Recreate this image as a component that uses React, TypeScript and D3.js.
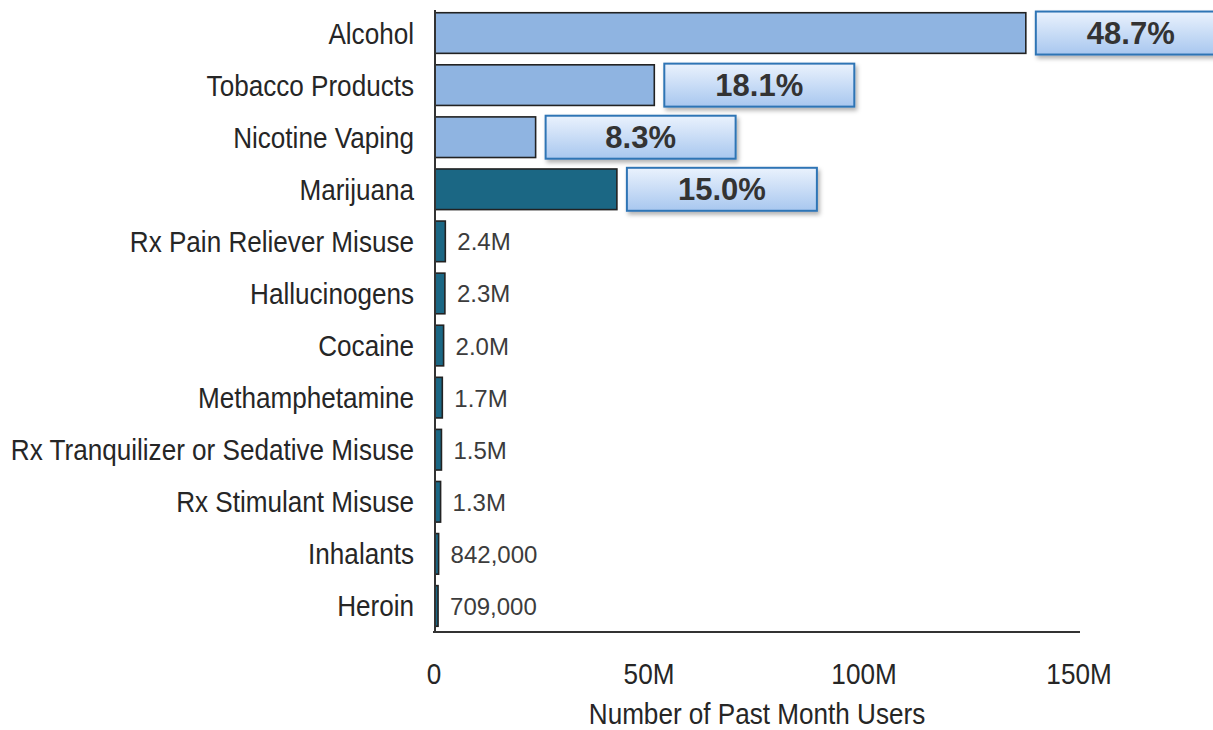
import React from 'react';
import * as d3 from 'd3';

const categories = [
  'Alcohol',
  'Tobacco Products',
  'Nicotine Vaping',
  'Marijuana',
  'Rx Pain Reliever Misuse',
  'Hallucinogens',
  'Cocaine',
  'Methamphetamine',
  'Rx Tranquilizer or Sedative Misuse',
  'Rx Stimulant Misuse',
  'Inhalants',
  'Heroin',
];

// past month users, millions
const users = [137.4, 51.0, 23.4, 42.3, 2.4, 2.3, 2.0, 1.7, 1.5, 1.3, 0.842, 0.709];

const percentLabels = ['48.7%', '18.1%', '8.3%', '15.0%'];
const countLabels = ['2.4M', '2.3M', '2.0M', '1.7M', '1.5M', '1.3M', '842,000', '709,000'];

const xTicks = [0, 50, 100, 150];
const xTickLabels = ['0', '50M', '100M', '150M'];

const W = 1213;
const H = 730;
const sans = '"Liberation Sans", Arial, Helvetica, sans-serif';
const squeeze = 0.87; // reference uses a condensed face

// condensed text: scale horizontally around its anchor point
const Narrow = ({ x, y, anchor, size, children }: any) => (
  <text
    transform={`translate(${x},${y}) scale(${squeeze},1)`}
    textAnchor={anchor}
    fontFamily={sans}
    fontSize={size}
    fill="#262626"
  >
    {children}
  </text>
);

const App = () => {
  const x = d3.scaleLinear().domain([0, 150]).range([435, 1080]);
  const y = d3.scaleBand<string>()
    .domain(categories)
    .range([7, 632])
    .paddingInner(0.22)
    .paddingOuter(0.11);

  const bw = y.bandwidth();
  const mid = (c: string) => (y(c) as number) + bw / 2;
  const boxW = 190;
  const boxH = 43;

  return (
    <svg width={W} height={H} style={{ position: 'absolute', left: 0, top: 0, background: '#fff' }}>
      <defs>
        <linearGradient id="boxFill" x1="0" y1="0" x2="0" y2="1">
          <stop offset="0%" stopColor="#eaf2fd" />
          <stop offset="100%" stopColor="#a8c7ef" />
        </linearGradient>
        <filter id="shadow" x="-10%" y="-20%" width="130%" height="160%">
          <feDropShadow dx="2" dy="3" stdDeviation="2" floodColor="#000" floodOpacity="0.3" />
        </filter>
      </defs>

      {/* bars */}
      {categories.map((c, i) => (
        <rect
          key={c}
          x={x(0)}
          y={y(c)}
          width={x(users[i]) - x(0)}
          height={bw}
          fill={i < 3 ? '#8fb4e1' : '#1b6784'}
          stroke="#222"
          strokeWidth={1.6}
        />
      ))}

      {/* percent callouts */}
      {percentLabels.map((p, i) => {
        const c = categories[i];
        const bx = x(users[i]) + 10;
        const cy = mid(c);
        return (
          <g key={p}>
            <rect
              x={bx}
              y={cy - boxH / 2}
              width={boxW}
              height={boxH}
              fill="url(#boxFill)"
              stroke="#2f74b5"
              strokeWidth={2}
              filter="url(#shadow)"
            />
            <text
              x={bx + boxW / 2}
              y={cy + 11}
              textAnchor="middle"
              fontFamily={sans}
              fontWeight="bold"
              fontSize={31}
              fill="#333"
            >
              {p}
            </text>
          </g>
        );
      })}

      {/* count labels */}
      {countLabels.map((t, j) => {
        const i = j + 4;
        return (
          <text
            key={t}
            x={x(users[i]) + 12}
            y={mid(categories[i]) + 9}
            fontFamily={sans}
            fontSize={24}
            fill="#3c3c3c"
          >
            {t}
          </text>
        );
      })}

      {/* category labels */}
      {categories.map((c) => (
        <Narrow key={c} x={414} y={mid(c) + 10.5} anchor="end" size={30}>
          {c}
        </Narrow>
      ))}

      {/* axes */}
      <line x1={x(0)} x2={x(0)} y1={10} y2={632} stroke="#333" strokeWidth={2} />
      <line x1={x(0) - 2} x2={x(150)} y1={632} y2={632} stroke="#333" strokeWidth={2} />

      {xTicks.map((t, i) => (
        <Narrow key={t} x={x(t) - 1} y={684} anchor="middle" size={30}>
          {xTickLabels[i]}
        </Narrow>
      ))}

      <Narrow x={757} y={724} anchor="middle" size={30}>
        Number of Past Month Users
      </Narrow>
    </svg>
  );
};

export default App;
